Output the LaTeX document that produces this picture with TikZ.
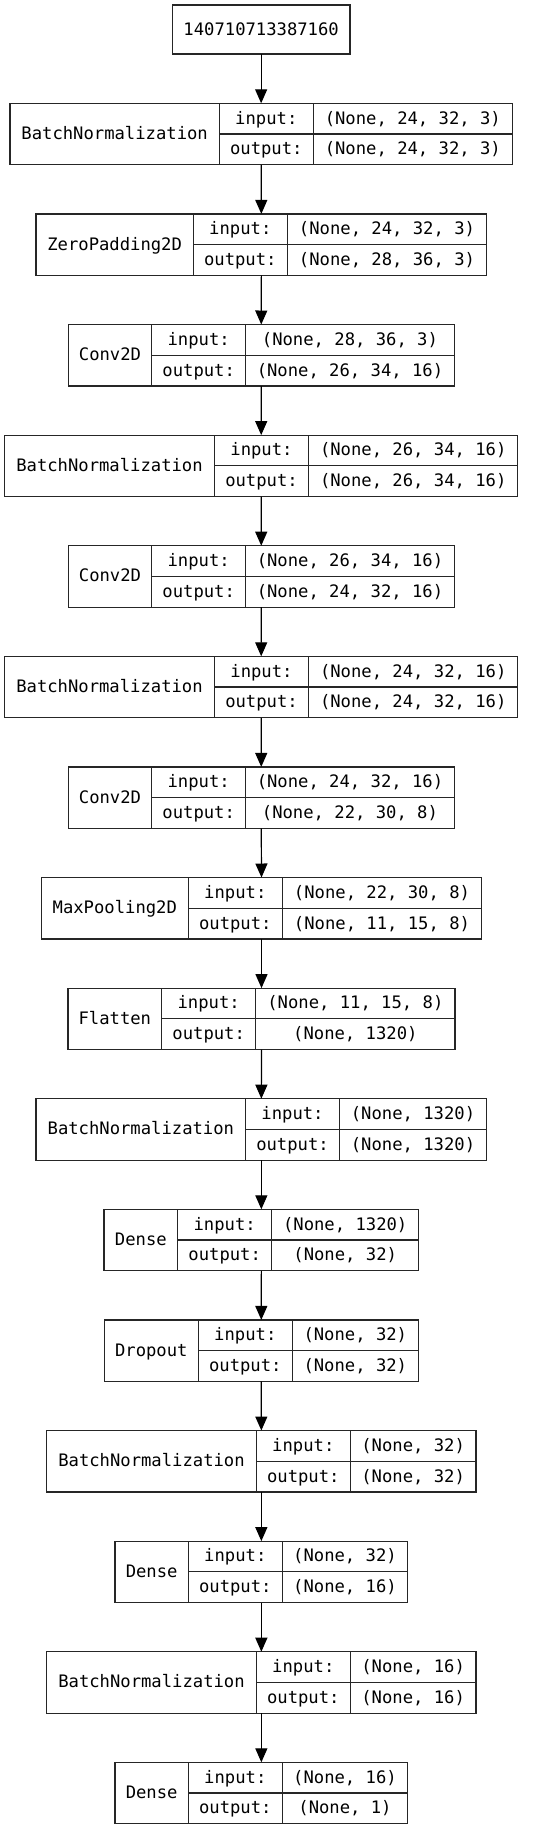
\documentclass[tikz,border=0pt]{standalone}
\usepackage{fontspec}
\newfontfamily\dvm{DejaVu Sans Mono}
\usetikzlibrary{arrows.meta}
\tikzset{
  box/.style={draw=black!85, line width=1.2pt, inner sep=0pt, outer sep=0pt, fill=white},
  sep/.style={draw=black!85, line width=1.2pt},
  txt/.style={anchor=base, inner sep=0pt, font=\dvm\fontsize{17.2}{20}\selectfont},
  arr/.style={draw=black, line width=1.2pt, -{Triangle[length=14pt,width=12pt]}}
}
\newcommand\lay[9]{%
  \pgfmathsetmacro\LyW{#6-#3}%
  \pgfmathsetmacro\LyC{(#3+#6)/2}%
  \pgfmathsetmacro\LyM{#2+30.75}%
  \pgfmathsetmacro\LyB{#2+61.5}%
  \node[box, minimum width=\LyW pt, minimum height=61.5pt] (#1) at (\LyC,\LyM) {};
  \draw[sep] (#4,#2) -- (#4,\LyB);
  \draw[sep] (#5,#2) -- (#5,\LyB);
  \draw[sep] (#4,\LyM) -- (#6,\LyM);
  \node[txt] (#1-name) at ({(#3+#4)/2},{#2+36.15}) {#7};
  \node[txt] (#1-ik) at ({(#4+#5)/2},{#2+20.8}) {input:};
  \node[txt] (#1-ok) at ({(#4+#5)/2},{#2+51.6}) {output:};
  \node[txt] (#1-in) at ({(#5+#6)/2},{#2+20.8}) {#8};
  \node[txt] (#1-out) at ({(#5+#6)/2},{#2+51.6}) {#9};
}
\begin{document}
\begin{tikzpicture}[x=1pt,y=-1pt]
\useasboundingbox[fill=white] (0,0) rectangle (549,1831);
\node[box, minimum width=177.7pt, minimum height=49pt] (inp) at (261.15,29.5) {};
\node[txt] (inp-t) at (261.15,35.3) {140710713387160};
\lay{l1}{103.3}{10}{219.3}{313.3}{512.3}{BatchNormalization}{(None, 24, 32, 3)}{(None, 24, 32, 3)}
\lay{l2}{213.9}{36}{193.3}{287.3}{486.7}{ZeroPadding2D}{(None, 24, 32, 3)}{(None, 28, 36, 3)}
\lay{l3}{324.5}{68.3}{151.7}{245.7}{454.2}{Conv2D}{(None, 28, 36, 3)}{(None, 26, 34, 16)}
\lay{l4}{435.1}{4.7}{214.3}{308.7}{517.7}{BatchNormalization}{(None, 26, 34, 16)}{(None, 26, 34, 16)}
\lay{l5}{545.7}{68.3}{151.7}{245.7}{454.2}{Conv2D}{(None, 26, 34, 16)}{(None, 24, 32, 16)}
\lay{l6}{656.3}{4.7}{214.3}{308.7}{517.7}{BatchNormalization}{(None, 24, 32, 16)}{(None, 24, 32, 16)}
\lay{l7}{766.9}{68.3}{151.7}{245.7}{454.2}{Conv2D}{(None, 24, 32, 16)}{(None, 22, 30, 8)}
\lay{l8}{877.5}{41.3}{188.3}{282.3}{481.7}{MaxPooling2D}{(None, 22, 30, 8)}{(None, 11, 15, 8)}
\lay{l9}{988.1}{68}{161.7}{255.7}{455}{Flatten}{(None, 11, 15, 8)}{(None, 1320)}
\lay{l10}{1098.7}{36}{245.7}{339.3}{486.7}{BatchNormalization}{(None, 1320)}{(None, 1320)}
\lay{l11}{1209.3}{104}{177.7}{271.7}{418.7}{Dense}{(None, 1320)}{(None, 32)}
\lay{l12}{1319.9}{104.3}{198.3}{292.3}{418.3}{Dropout}{(None, 32)}{(None, 32)}
\lay{l13}{1430.5}{46.7}{256.3}{350.3}{476}{BatchNormalization}{(None, 32)}{(None, 32)}
\lay{l14}{1541.1}{115}{188.3}{282.3}{407.7}{Dense}{(None, 32)}{(None, 16)}
\lay{l15}{1651.7}{46.7}{256.3}{350.3}{476}{BatchNormalization}{(None, 16)}{(None, 16)}
\lay{l16}{1762.3}{115}{188.3}{282.3}{407.7}{Dense}{(None, 16)}{(None, 1)}
\draw[arr] (inp.south) -- (l1.north);
\foreach \a/\b in {l1/l2,l2/l3,l3/l4,l4/l5,l5/l6,l6/l7,l7/l8,l8/l9,l9/l10,l10/l11,l11/l12,l12/l13,l13/l14,l14/l15,l15/l16}
  \draw[arr] (\a.south) -- (\b.north);
\end{tikzpicture}
\end{document}
